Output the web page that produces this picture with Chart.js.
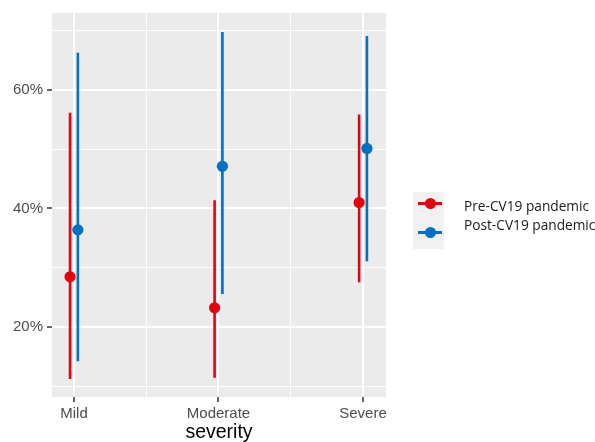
<!DOCTYPE html>
<html>
<head>
<meta charset="utf-8">
<script src="https://cdn.jsdelivr.net/npm/chart.js@4.4.1/dist/chart.umd.min.js"></script>
<style>
  html, body { margin: 0; padding: 0; background: #fff; }
  #wrap { position: relative; width: 595px; height: 442px; overflow: hidden; }
  #chart { position: absolute; left: 0; top: 0; }
  .axis-title {
    position: absolute; left: 52px; width: 334px; top: 421px;
    text-align: center; font: 19.5px/20px "Liberation Sans", Arial, sans-serif; color: #000;
  }
  .legend-keys {
    position: absolute; left: 413px; top: 192px; width: 31px; height: 57px; background: #F1F1F1;
  }
  .key { position: absolute; left: 5px; width: 24px; height: 2.5px; }
  .key::after {
    content: ""; position: absolute; left: 7px; top: -4.5px; width: 11px; height: 11px;
    border-radius: 50%; background: inherit;
  }
  .legend-text {
    position: absolute; left: 464px; font: 13.7px/18px "Open Sans", "Noto Sans", sans-serif; color: #1a1a1a;
    white-space: nowrap;
  }
</style>
</head>
<body>
<div id="wrap">
  <canvas id="chart" width="595" height="442"></canvas>
  <div class="axis-title">severity</div>
  <div class="legend-keys">
    <div class="key" id="key0" style="top:10px"></div>
    <div class="key" id="key1" style="top:39px"></div>
  </div>
  <div class="legend-text" id="lab0" style="top:197px"></div>
  <div class="legend-text" id="lab1" style="top:216px"></div>
</div>
<script>
// Severity groups on the x axis
const categories = ['Mild', 'Moderate', 'Severe'];

// Estimated proportions (%) with lower / upper interval bounds
const preMean  = [28.5, 23.3, 41.0];
const preLower = [11.3, 11.5, 27.6];
const preUpper = [56.1, 41.4, 55.8];

const postMean  = [36.4, 47.1, 50.1];
const postLower = [14.3, 25.6, 31.1];
const postUpper = [66.2, 69.7, 69.0];

const seriesNames = ['Pre-CV19 pandemic', 'Post-CV19 pandemic'];

// Axis ticks: major ones carry labels, minor ones only a grid line
const yMajorTicks = [20, 40, 60];
const yMinorTicks = [10, 30, 50, 70];
const xMinorTicks = [1.5, 2.5];

const COLORS = ['#E3000F', '#0070C0'];
const DODGE = 0.027;          // horizontal offset of each group around its category
const X_MIN = 0.848, X_MAX = 3.159;
const Y_MIN = 8.28,  Y_MAX = 72.89;

function rangeData(lower, upper, shift) {
  const out = [];
  categories.forEach((c, i) => {
    const x = i + 1 + shift;
    out.push({ x, y: lower[i] }, { x, y: upper[i] }, { x, y: null });
  });
  return out;
}
function pointData(mean, shift) {
  return categories.map((c, i) => ({ x: i + 1 + shift, y: mean[i] }));
}

const series = [
  { name: seriesNames[0], mean: preMean,  lower: preLower,  upper: preUpper,  shift: -DODGE, color: COLORS[0] },
  { name: seriesNames[1], mean: postMean, lower: postLower, upper: postUpper, shift:  DODGE, color: COLORS[1] }
];

const datasets = [];
series.forEach((s, k) => {
  datasets.push({
    label: s.name + ' interval',
    data: rangeData(s.lower, s.upper, s.shift),
    showLine: true, spanGaps: false,
    borderColor: s.color, borderWidth: 2.6, borderCapStyle: 'butt',
    pointRadius: 0, pointHoverRadius: 0,
    order: 10 - 2 * k
  });
  datasets.push({
    label: s.name,
    data: pointData(s.mean, s.shift),
    showLine: false,
    backgroundColor: s.color, borderWidth: 0,
    pointRadius: 5.6, pointHoverRadius: 5.6,
    order: 9 - 2 * k
  });
});

// Legend entries
series.forEach((s, k) => {
  document.getElementById('key' + k).style.background = s.color;
  document.getElementById('lab' + k).textContent = s.name;
});

const panelBackground = {
  id: 'panelBackground',
  beforeDraw(chart) {
    const a = chart.chartArea, ctx = chart.ctx;
    ctx.save();
    ctx.fillStyle = '#EBEBEB';
    ctx.fillRect(a.left, a.top, a.right - a.left, a.bottom - a.top);
    ctx.restore();
  }
};

const tickFont = { family: '"Liberation Sans", Arial, sans-serif', size: 15 };
const isMajorX = v => Number.isInteger(v);
const isMajorY = v => yMajorTicks.includes(v);

new Chart(document.getElementById('chart'), {
  type: 'scatter',
  data: { datasets },
  options: {
    responsive: false,
    animation: false,
    events: [],
    layout: { padding: { left: 0, top: 11, right: 209, bottom: 0 } },
    plugins: { legend: { display: false }, tooltip: { enabled: false } },
    scales: {
      x: {
        type: 'linear', min: X_MIN, max: X_MAX,
        afterBuildTicks: s => {
          s.ticks = categories.map((c, i) => i + 1).concat(xMinorTicks)
            .sort((a, b) => a - b).map(v => ({ value: v }));
        },
        afterFit: s => { s.height = 45; },
        border: { display: false },
        grid: {
          color: '#FFFFFF',
          lineWidth: c => isMajorX(c.tick.value) ? 2 : 1,
          tickColor: c => isMajorX(c.tick.value) ? '#333333' : 'rgba(0,0,0,0)',
          tickWidth: 1.5,
          tickLength: 5
        },
        ticks: {
          autoSkip: false, maxRotation: 0, padding: 3,
          color: '#4D4D4D', font: tickFont,
          callback: v => isMajorX(v) ? categories[v - 1] : ''
        }
      },
      y: {
        type: 'linear', min: Y_MIN, max: Y_MAX,
        afterBuildTicks: s => {
          s.ticks = yMajorTicks.concat(yMinorTicks).sort((a, b) => a - b).map(v => ({ value: v }));
        },
        afterFit: s => { s.width = 52; },
        border: { display: false },
        grid: {
          color: '#FFFFFF',
          lineWidth: c => isMajorY(c.tick.value) ? 2 : 1,
          tickColor: c => isMajorY(c.tick.value) ? '#333333' : 'rgba(0,0,0,0)',
          tickWidth: 1.5,
          tickLength: 5
        },
        ticks: {
          autoSkip: false, padding: 4,
          color: '#4D4D4D', font: tickFont,
          callback: v => isMajorY(v) ? v + '%' : ''
        }
      }
    }
  },
  plugins: [panelBackground]
});
</script>
</body>
</html>
